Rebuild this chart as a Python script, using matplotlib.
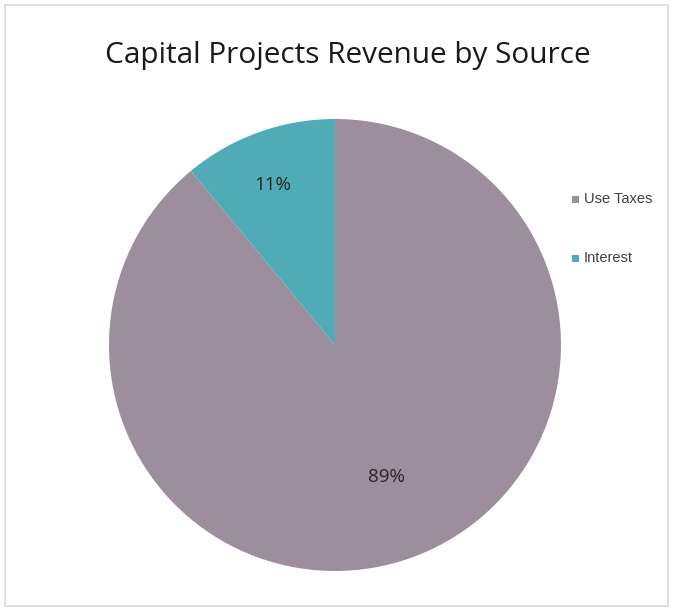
import matplotlib.pyplot as plt
from matplotlib.patches import Rectangle

# Revenue shares (%)
sources = ["Use Taxes", "Interest"]
shares = [89, 11]
colors = ["#9C8E9D", "#4FABB5"]

fig = plt.figure(figsize=(6.74, 6.09), dpi=100)

# outer chart frame
fig.patches.append(Rectangle((5 / 674, 1 - 606 / 609), 663 / 674, 601 / 609,
                             transform=fig.transFigure, facecolor="white",
                             edgecolor="#D9D9D9", lw=1.2, zorder=-1))

ax = fig.add_axes([0.1617, 0.0624, 0.6706, 0.7422])
wedges, _ = ax.pie(shares, colors=colors, startangle=90, counterclock=False,
                   wedgeprops=dict(linewidth=0))
ax.set_xlim(-1, 1)
ax.set_ylim(-1, 1)
ax.set_aspect("equal")

# percentage labels
label_pos = [(0.226, -0.584), (-0.274, 0.708)]
for (x, y), v in zip(label_pos, shares):
    ax.text(x, y, f"{v}%", ha="center", va="center", fontsize=13.5,
            color="#262626", family="Open Sans")

fig.text(348 / 674, 1 - 56 / 609, "Capital Projects Revenue by Source",
         ha="center", va="center", fontsize=21.4, color="#1A1A1A",
         family="Open Sans")

# legend
for i, (name, c) in enumerate(zip(sources, colors)):
    y = 1 - (199 + i * 59) / 609
    fig.patches.append(Rectangle((572 / 674, y - 3.5 / 609), 7 / 674, 7 / 609,
                                 transform=fig.transFigure, facecolor=c,
                                 edgecolor="none"))
    fig.text(584 / 674, y, name, ha="left", va="center", fontsize=10.5,
             color="#404040", family="Liberation Sans")

fig.savefig("out.png", dpi=100, facecolor="white")
